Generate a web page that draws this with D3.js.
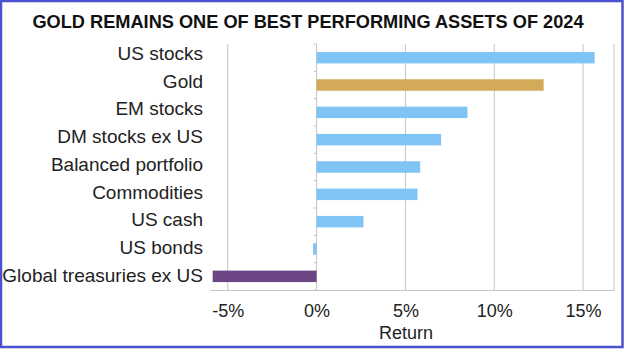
<!DOCTYPE html>
<html>
<head>
<meta charset="utf-8">
<script src="https://cdn.jsdelivr.net/npm/d3@7"></script>
<style>
  body { margin: 0; background: #fff; }
  text { font-family: "Liberation Sans", Arial, sans-serif; fill: #222; }
</style>
</head>
<body>
<div id="viz"></div>
<script>
const width = 626;
const height = 350;
const plot = {left: 210, right: 614, top: 44, bottom: 290};

// data
const categories = ['US stocks', 'Gold', 'EM stocks', 'DM stocks ex US', 'Balanced portfolio',
  'Commodities', 'US cash', 'US bonds', 'Global treasuries ex US'];
const returns = [15.65, 12.78, 8.49, 7.01, 5.83, 5.68, 2.64, -0.2, -5.85];
const barColors = ['#80c4f6', '#d3a95a', '#80c4f6', '#80c4f6', '#80c4f6',
  '#80c4f6', '#80c4f6', '#80c4f6', '#6c4584'];
const xTicks = [-5, 0, 5, 10, 15];
const xDomain = [-6, 16.74];

const rows = categories.map((c, i) => ({name: c, value: returns[i], color: barColors[i]}));

const svg = d3.select('#viz')
  .append('svg')
    .attr('width', width)
    .attr('height', height);

const x = d3.scaleLinear().domain(xDomain).range([plot.left, plot.right]);
const y = d3.scaleBand().domain(categories).range([plot.top, plot.bottom])
  .paddingInner(0.58).paddingOuter(0.29);
// the labels sit a little higher than the bars in the original
const yLabel = d3.scaleBand().domain(categories).range([39, 289]);

// frame
svg.append('rect')
  .attr('x', 1).attr('y', 1)
  .attr('width', 621.5).attr('height', 346)
  .attr('fill', 'none')
  .attr('stroke', '#4b51cf')
  .attr('stroke-width', 2.5);

// title
svg.append('text')
  .attr('x', 308)
  .attr('y', 28)
  .attr('text-anchor', 'middle')
  .style('font-weight', 'bold')
  .style('font-size', '18.2px')
  .style('fill', '#111')
  .text('GOLD REMAINS ONE OF BEST PERFORMING ASSETS OF 2024');

// gridlines
svg.append('g')
  .selectAll('line').data(xTicks).join('line')
    .attr('x1', d => x(d)).attr('x2', d => x(d))
    .attr('y1', plot.top).attr('y2', plot.bottom)
    .attr('stroke', '#c4c4c4')
    .attr('stroke-width', 1);

svg.append('line')
  .attr('x1', plot.right).attr('x2', plot.right)
  .attr('y1', plot.top).attr('y2', plot.bottom)
  .attr('stroke', '#c4c4c4');

// bottom axis
const xAxis = d3.axisBottom(x).tickValues(xTicks).tickSize(0).tickPadding(14)
  .tickFormat(d => d + '%');
const gx = svg.append('g')
  .attr('transform', `translate(0, ${plot.bottom})`)
  .call(xAxis);
gx.select('.domain').attr('stroke', '#c4c4c4');
gx.selectAll('text')
  .style('font-size', '18px')
  .style('font-family', '"Liberation Sans", Arial, sans-serif')
  .attr('fill', '#222');

svg.append('text')
  .attr('x', 406)
  .attr('y', 339)
  .attr('text-anchor', 'middle')
  .style('font-size', '18px')
  .text('Return');

// small ticks on the zero line at band edges
const edges = categories.map(c => y(c) - y.step() * y.paddingInner() / 2);
edges.push(plot.bottom);
svg.append('g')
  .selectAll('line').data(edges).join('line')
    .attr('x1', x(0) - 3).attr('x2', x(0))
    .attr('y1', d => d).attr('y2', d => d)
    .attr('stroke', '#c4c4c4');

// bars
svg.append('g')
  .selectAll('rect').data(rows).join('rect')
    .attr('x', d => x(Math.min(0, d.value)))
    .attr('y', d => y(d.name))
    .attr('width', d => Math.abs(x(d.value) - x(0)))
    .attr('height', y.bandwidth())
    .attr('fill', d => d.color);

// category labels
svg.append('g')
  .selectAll('text').data(rows).join('text')
    .attr('x', 203)
    .attr('y', d => yLabel(d.name) + yLabel.bandwidth() / 2)
    .attr('dy', '0.36em')
    .attr('text-anchor', 'end')
    .style('font-size', '19px')
    .text(d => d.name);
</script>
</body>
</html>
